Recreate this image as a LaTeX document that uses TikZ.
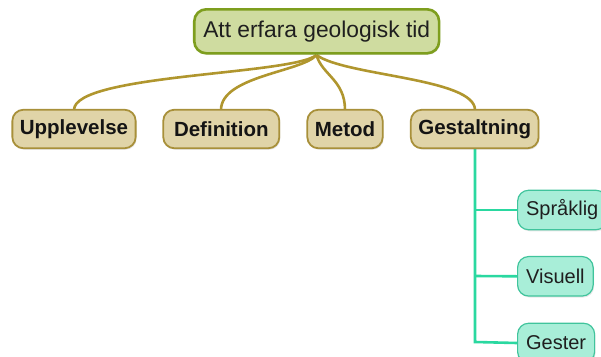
\documentclass[tikz,border=0pt]{standalone}
\usepackage{fontspec}
\setmainfont{Liberation Sans}
\usetikzlibrary{shadows}
\definecolor{rootfill}{HTML}{CFDCA0}
\definecolor{rootdraw}{HTML}{7E9E1E}
\definecolor{midfill}{HTML}{E0D4A8}
\definecolor{middraw}{HTML}{A8903A}
\definecolor{linkgold}{HTML}{B0962E}
\definecolor{leaffill}{HTML}{A8EED8}
\definecolor{leafdraw}{HTML}{40C49C}
\definecolor{linkteal}{HTML}{2AD8A0}
\tikzset{
  shadowed/.style={drop shadow={opacity=0.18, shadow xshift=1pt, shadow yshift=-1.5pt}},
  rootbox/.style={shadowed, draw=rootdraw, line width=2.6pt, fill=rootfill, rounded corners=12pt,
    minimum height=44pt, inner xsep=9pt, inner ysep=0pt, text=black!88,
    font=\fontsize{22.8}{27}\selectfont},
  midbox/.style={shadowed, draw=middraw, line width=1.8pt, fill=midfill, rounded corners=11pt,
    minimum height=38.5pt, inner xsep=7.5pt, inner ysep=0pt, text=black!92,
    font=\fontsize{20.5}{24}\selectfont\bfseries},
  leafbox/.style={shadowed, draw=leafdraw, line width=1.2pt, fill=leaffill, rounded corners=11pt,
    minimum height=39.5pt, inner xsep=8.5pt, inner ysep=0pt, text=black!88, anchor=west,
    font=\fontsize{20}{24}\selectfont},
  goldlink/.style={draw=linkgold, line width=2.6pt},
  teallink/.style={draw=linkteal, line width=2.6pt},
}
\begin{document}
\begin{tikzpicture}[x=1pt,y=-1pt]
\useasboundingbox (0,0) rectangle (601,356);
\coordinate (hub) at (316.5,55);
% links first (under nodes)
\coordinate (tU) at (74,110);
\coordinate (tD) at (221,110);
\coordinate (tM) at (345,110);
\coordinate (tG) at (475,110);
\draw[goldlink] (hub) .. controls (292,75) and (74,74) .. (tU);
\draw[goldlink] (hub) .. controls (302,72) and (221,76) .. (tD);
\draw[goldlink] (hub) .. controls (322,75) and (345,80) .. (tM);
\draw[goldlink] (hub) .. controls (345,76) and (475,78) .. (tG);
\coordinate (vtop) at (475,148);
\coordinate (j1) at (475,210);
\coordinate (j2) at (475,276);
\coordinate (j3) at (475,342);
\node[leafbox] (spr) at (517,210) {Språklig};
\node[leafbox] (vis) at (517,276.3) {Visuell};
\node[leafbox] (ges) at (517,343) {Gester};
\draw[teallink] (vtop) -- (j3) -- (ges.west);
\draw[teallink] (j1) -- (spr.west);
\draw[teallink] (j2) -- (vis.west);
\node[rootbox] (root) at (316.7,31.3) {Att erfara geologisk tid};
\node[midbox] (upp) at (74,129) {Upplevelse};
\node[midbox, minimum width=116pt] (def) at (221.3,129) {Definition};
\node[midbox] (met) at (345,129) {Metod};
\node[midbox] (gest) at (474.7,129) {Gestaltning};
\end{tikzpicture}
\end{document}
